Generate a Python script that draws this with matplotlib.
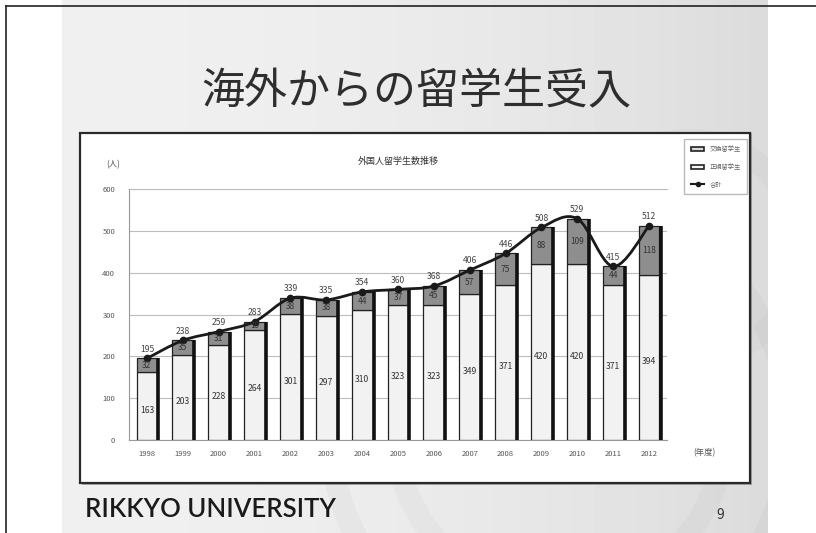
import numpy as np
import matplotlib.pyplot as plt
from matplotlib.path import Path
from matplotlib.patches import PathPatch, Rectangle, Circle
from matplotlib.lines import Line2D

plt.rcParams['font.family'] = ['Noto Sans CJK JP', 'DejaVu Sans']

# 年度別の留学生数
years = ['1998', '1999', '2000', '2001', '2002', '2003', '2004', '2005',
         '2006', '2007', '2008', '2009', '2010', '2011', '2012']
regular = [163, 203, 228, 264, 301, 297, 310, 323, 323, 349, 371, 420, 420, 371, 394]
exchange = [32, 35, 31, 19, 38, 38, 44, 37, 45, 57, 75, 88, 109, 44, 118]
totals = [195, 238, 259, 283, 339, 335, 354, 360, 368, 406, 446, 508, 529, 415, 512]
series_names = ['交換留学生', '正規留学生', '合計']

fig = plt.figure(figsize=(8.16, 5.33), dpi=100)

# スライドの背景
bg = fig.add_axes([0, 0, 1, 1], zorder=-10)
bg.set_xlim(0, 816)
bg.set_ylim(533, 0)
bg.axis('off')
grad = np.linspace(0, 1, 200)
img = 0.94 - 0.08 * grad[None, :] ** 2
img = np.repeat(img, 50, axis=0)
bg.imshow(img, cmap='gray', vmin=0, vmax=1, extent=[62, 768, 533, 0], aspect='auto')
slide = Rectangle((62, 0), 706, 533, transform=bg.transData, facecolor='none', edgecolor='none')
bg.add_patch(slide)
for cx, cy, r, a in [(560, 430, 230, 0.07), (560, 430, 165, 0.06), (690, 250, 110, 0.05)]:
    c = Circle((cx, cy), r, fill=False, lw=16, color='#8a8a8a', alpha=a)
    bg.add_patch(c)
    c.set_clip_path(slide)
bg.plot([6, 816], [6, 6], color='#222222', lw=1.2)
bg.plot([6, 6], [6, 533], color='#222222', lw=1.2)

fig.text(0.51, 0.826, '海外からの留学生受入', ha='center', va='center',
         fontsize=31, color='#2e2e2e')
fig.text(85 / 816, 0.045, 'RIKKYO UNIVERSITY', ha='left', va='center',
         fontsize=18.5, color='#1a1a1a', family=['Lato', 'DejaVu Sans'], weight='semibold')
fig.text(720 / 816, 0.033, '9', ha='center', va='center', fontsize=10, color='#333333')

# グラフの枠
fig.patches.append(Rectangle((82 / 816, 48 / 533), 670 / 816, 352 / 533, transform=fig.transFigure,
                             facecolor='#6a6a6a', edgecolor='none', zorder=-5, alpha=0.5))
fig.patches.append(Rectangle((80 / 816, 50 / 533), 670 / 816, 350 / 533, transform=fig.transFigure,
                             facecolor='white', edgecolor='#2a2a2a', lw=1.6, zorder=-4))

ax = fig.add_axes([129 / 816, 93 / 533, 538 / 816, 251 / 533])
x = np.arange(len(years))
w = 0.58

ax.bar(x, regular, w, color='#f2f2f2', edgecolor='#222222', lw=0.9, zorder=3)
ax.bar(x, exchange, w, bottom=regular, color='#8e8e8e', edgecolor='#222222', lw=0.9, zorder=3)
# 立体風の右側の影
ax.vlines(x + w / 2 + 0.03, 0, totals, color='#111111', lw=2.6, zorder=4)

# 合計の折れ線（なめらか）
pts = np.column_stack([x, totals]).astype(float)
verts = [tuple(pts[0])]
codes = [Path.MOVETO]
for i in range(len(pts) - 1):
    p0 = pts[max(i - 1, 0)]
    p1 = pts[i]
    p2 = pts[i + 1]
    p3 = pts[min(i + 2, len(pts) - 1)]
    c1 = p1 + (p2 - p0) / 6
    c2 = p2 - (p3 - p1) / 6
    verts += [tuple(c1), tuple(c2), tuple(p2)]
    codes += [Path.CURVE4] * 3
ax.add_patch(PathPatch(Path(verts, codes), fill=False, edgecolor='#1a1a1a', lw=2.0, zorder=6))
ax.plot(x, totals, 'o', color='#1a1a1a', ms=4.5, zorder=7)

for i in range(len(years)):
    ax.text(x[i], totals[i] + 22, str(totals[i]), ha='center', va='center',
            fontsize=6.2, color='#444444', zorder=8)
    ax.text(x[i], regular[i] + exchange[i] / 2, str(exchange[i]), ha='center', va='center',
            fontsize=6, color='#333333', zorder=8)
    ax.text(x[i], regular[i] / 2 - 10, str(regular[i]), ha='center', va='center',
            fontsize=6.2, color='#333333', zorder=8)

ax.set_xlim(-0.5, len(years) - 0.5)
ax.set_ylim(0, 600)
ax.set_yticks(range(0, 601, 100))
ax.set_xticks(x)
ax.set_xticklabels(years)
ax.tick_params(axis='both', labelsize=5.5, colors='#555555', length=0, pad=10)
ax.tick_params(axis='x', pad=7)
ax.yaxis.grid(True, color='#bdbdbd', lw=0.8, zorder=0)
for s in ['top', 'right']:
    ax.spines[s].set_visible(False)
ax.spines['left'].set_color('#999999')
ax.spines['bottom'].set_color('#999999')
ax.plot([-0.5, len(years) - 0.5], [600, 600], color='#bdbdbd', lw=0.8, clip_on=False)

ax.text(0.5, 1.11, '外国人留学生数推移', transform=ax.transAxes, ha='center', va='center',
        fontsize=6.5, color='#333333')
ax.text(-0.03, 1.095, '(人)', transform=ax.transAxes, ha='center', va='center',
        fontsize=6, color='#555555')
ax.text(1.07, -0.05, '(年度)', transform=ax.transAxes, ha='center', va='center',
        fontsize=6, color='#555555')

handles = [Rectangle((0, 0), 1, 1, facecolor='#d8d8d8', edgecolor='#222222', lw=1.2),
           Rectangle((0, 0), 1, 1, facecolor='#f4f4f4', edgecolor='#222222', lw=1.2),
           Line2D([], [], color='#1a1a1a', lw=1.5, marker='o', ms=3)]
fig.legend(handles, series_names, loc='upper right', bbox_to_anchor=(750 / 816, 397 / 533),
           fontsize=4.5, frameon=True, fancybox=False, edgecolor='#aaaaaa',
           handlelength=2.2, handleheight=0.6, labelspacing=1.5, borderpad=1.0,
           labelcolor='#666666')

fig.savefig('out.png', dpi=100)
